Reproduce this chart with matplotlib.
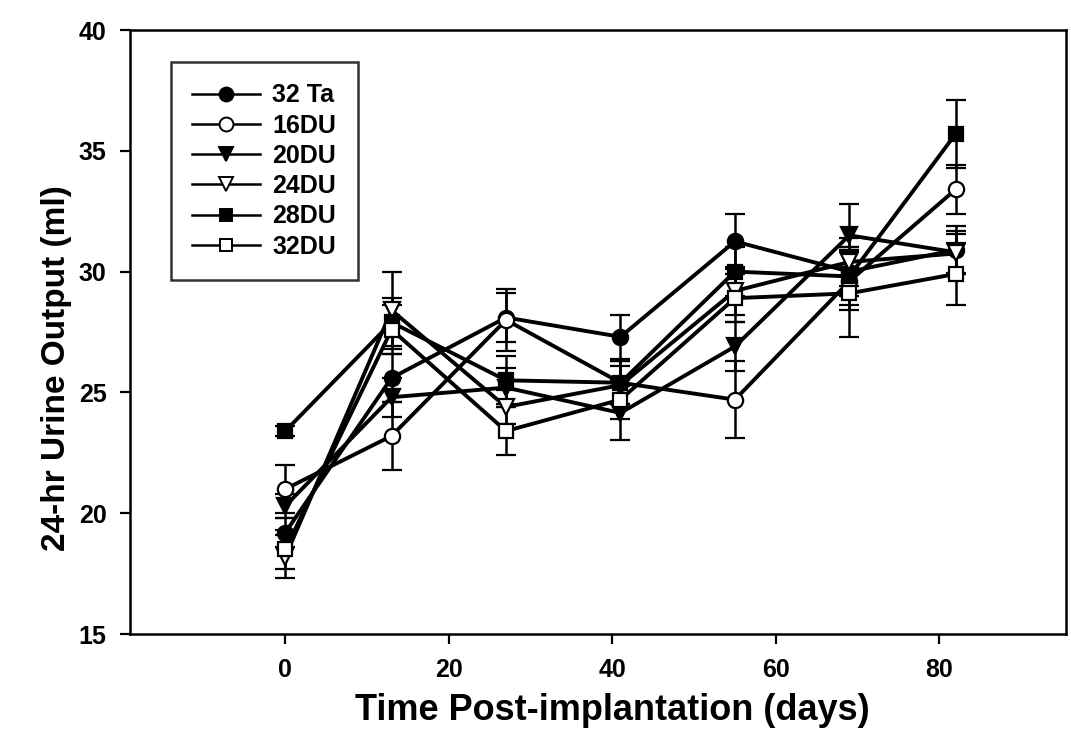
import matplotlib
matplotlib.use("Agg")
import matplotlib.pyplot as plt
from matplotlib.lines import Line2D

# ---- data ----
days = [0, 13, 27, 41, 55, 69, 82]
series_names = ["32 Ta", "16DU", "20DU", "24DU", "28DU", "32DU"]
ta32 = [19.2, 25.6, 28.1, 27.3, 31.25, 30.0, 30.9]
du16 = [21.0, 23.2, 28.0, 25.4, 24.7, 29.6, 33.4]
du20 = [20.3, 24.8, 25.2, 24.15, 26.9, 31.5, 30.8]
du24 = [18.2, 28.4, 24.4, 25.3, 29.2, 30.4, 30.75]
du28 = [23.4, 27.9, 25.5, 25.4, 30.0, 29.8, 35.7]
du32 = [18.5, 27.6, 23.4, 24.7, 28.9, 29.1, 29.9]

ta32_err = [0.6, 1.0, 1.0, 0.9, 1.15, 1.0, 1.0]
du16_err = [1.0, 1.4, 1.3, 0.9, 1.6, 1.2, 1.0]
du20_err = [0.5, 0.8, 0.8, 1.1, 1.0, 1.3, 0.9]
du24_err = [0.9, 1.6, 0.7, 0.8, 1.0, 1.0, 0.8]
du28_err = [0.2, 1.0, 1.0, 0.9, 1.0, 1.2, 1.4]
du32_err = [0.8, 1.0, 1.0, 0.8, 1.0, 1.8, 1.3]

x_ticks = [0, 20, 40, 60, 80]
y_ticks = [15, 20, 25, 30, 35, 40]

plt.rcParams['font.family'] = ['Liberation Sans', 'DejaVu Sans']
plt.rcParams['font.weight'] = 'bold'

fig = plt.figure(figsize=(10.71, 7.42), dpi=100)
W, H = 1071, 742
L, R, T, B = 130, 1066, 30, 634
ax = fig.add_axes([L / W, 1 - B / H, (R - L) / W, (B - T) / H])

styles = [
    dict(marker='o', mfc='black'),
    dict(marker='o', mfc='white'),
    dict(marker='v', mfc='black'),
    dict(marker='v', mfc='white'),
    dict(marker='s', mfc='black'),
    dict(marker='s', mfc='white'),
]
values = [ta32, du16, du20, du24, du28, du32]
errs = [ta32_err, du16_err, du20_err, du24_err, du28_err, du32_err]
msizes = [11, 11, 11, 11, 10, 10]

handles = []
for name, vals, err, st, ms in zip(series_names, values, errs, styles, msizes):
    ax.errorbar(days, vals, yerr=err, color='black', lw=2.8,
                marker=st['marker'], mfc=st['mfc'], mec='black', mew=1.6,
                ms=ms, ecolor='black', elinewidth=1.8, capsize=7, capthick=1.8)
    handles.append(Line2D([], [], color='black', lw=1.8, marker=st['marker'],
                          mfc=st['mfc'], mec='black', mew=1.4, ms=ms - 1,
                          label=name))

ax.set_xlim(-19, 95.5)
ax.set_ylim(15, 40)
ax.set_xticks(x_ticks)
ax.set_yticks(y_ticks)
ax.tick_params(direction='out', length=7, width=1.6, labelsize=18, pad=10)
for lab in ax.get_xticklabels() + ax.get_yticklabels():
    lab.set_fontweight('bold')
for sp in ax.spines.values():
    sp.set_linewidth(1.8)

ax.set_xlabel("Time Post-implantation (days)", fontsize=26, fontweight='bold')
ax.set_ylabel("24-hr Urine Output (ml)", fontsize=24, fontweight='bold')
ax.xaxis.set_label_coords(0.515, -0.098)
ax.yaxis.set_label_coords(-0.062, 0.44)

leg = ax.legend(handles=handles, loc='upper left', bbox_to_anchor=(0.044, 0.947),
                frameon=True, fancybox=False, edgecolor='black', fontsize=18,
                handlelength=2.7, borderpad=0.85, labelspacing=0.25,
                handletextpad=0.5, borderaxespad=0)
leg.get_frame().set_linewidth(1.8)
for t in leg.get_texts():
    t.set_fontweight('bold')

fig.savefig("out.png", dpi=100)
